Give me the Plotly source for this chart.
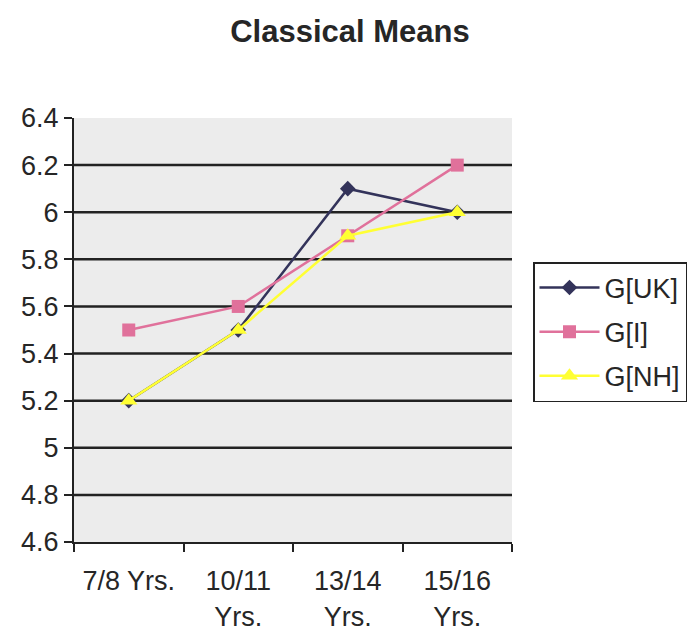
import plotly.graph_objects as go

categories = ["7/8 Yrs.", "10/11<br>Yrs.", "13/14<br>Yrs.", "15/16<br>Yrs."]
g_uk = [5.2, 5.5, 6.1, 6.0]
g_i = [5.5, 5.6, 5.9, 6.2]
g_nh = [5.2, 5.5, 5.9, 6.0]
y_ticks = [4.6, 4.8, 5.0, 5.2, 5.4, 5.6, 5.8, 6.0, 6.2, 6.4]
y_ticktext = ["4.6", "4.8", "5", "5.2", "5.4", "5.6", "5.8", "6", "6.2", "6.4"]
grid_vals = [4.8, 5.0, 5.2, 5.4, 5.6, 5.8, 6.0, 6.2]

FONT = "Liberation Sans, Arial, sans-serif"
TXT = "#262626"

fig = go.Figure()
fig.add_trace(go.Scatter(x=categories, y=g_uk, name="G[UK]", mode="lines+markers",
                         line=dict(color="#33335a", width=2.5),
                         marker=dict(symbol="diamond", size=12, color="#33335a"),
                         legendgroup="a"))
fig.add_trace(go.Scatter(x=categories, y=g_i, name="G[I]", mode="lines+markers",
                         line=dict(color="#e0719b", width=2.5),
                         marker=dict(symbol="square", size=13, color="#e0719b"),
                         legendgroup="b"))
fig.add_trace(go.Scatter(x=categories, y=g_nh, name="G[NH]", mode="lines+markers",
                         line=dict(color="#ffff33", width=2.5),
                         marker=dict(symbol="triangle-up", size=15, color="#ffff33"),
                         legendgroup="c"))

for gv in grid_vals:
    fig.add_shape(type="line", xref="paper", yref="y", x0=0, x1=1, y0=gv, y1=gv,
                  line=dict(color="#222222", width=2.5), layer="below")

fig.update_layout(
    width=692, height=635,
    margin=dict(l=74, r=180, t=118, b=93, autoexpand=False),
    paper_bgcolor="white",
    plot_bgcolor="#ececec",
    font=dict(family=FONT, size=27, color=TXT),
    title=dict(text="<b>Classical Means</b>", x=350/692, xanchor="center",
               y=1 - 31/635, yanchor="middle",
               font=dict(family=FONT, size=31, color=TXT)),
    showlegend=True,
    legend=dict(x=(533 - 74) / 438, y=(542 - 262) / 424, xanchor="left", yanchor="top",
                bgcolor="white", bordercolor="#222222", borderwidth=1.5,
                font=dict(family=FONT, size=27, color=TXT),
                itemwidth=60, tracegroupgap=6),
    xaxis=dict(type="category", range=[-0.5, 3.5], showline=True, linecolor="#222222", linewidth=2,
               ticks="outside", tickson="boundaries", ticklen=8, tickcolor="#222222",
               tickwidth=2, showgrid=False, ticklabelstandoff=14, automargin=False,
               tickfont=dict(size=27, color=TXT)),
    yaxis=dict(range=[4.6, 6.4], tickmode="array", tickvals=y_ticks, ticktext=y_ticktext,
               showline=True, linecolor="#222222", linewidth=2,
               ticks="outside", ticklen=8, tickcolor="#222222", tickwidth=2,
               showgrid=False, zeroline=False, automargin=False,
               tickfont=dict(size=27, color=TXT)),
)

fig.write_html("out.html")
